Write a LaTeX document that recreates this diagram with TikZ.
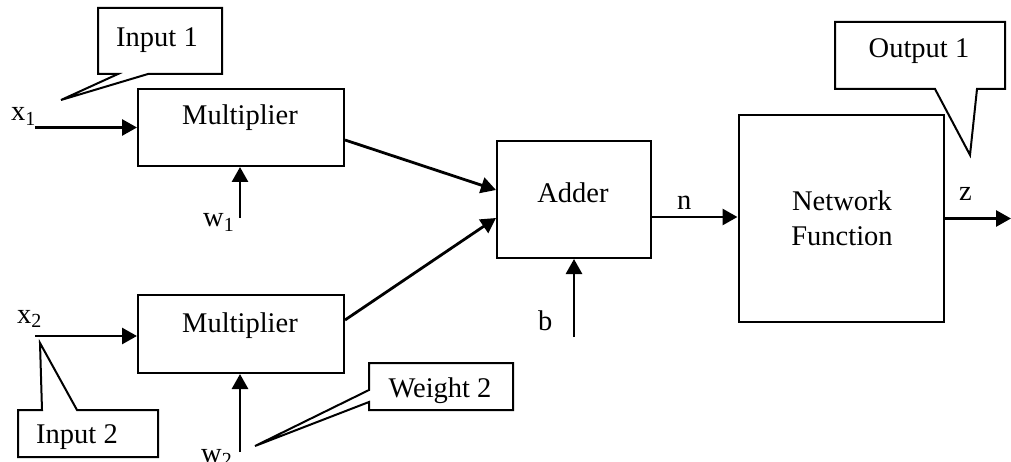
\documentclass[tikz,border=0pt]{standalone}
\usepackage{fontspec}
\setmainfont{Liberation Serif}
\usetikzlibrary{arrows.meta}
\begin{document}
\begin{tikzpicture}[x=1pt,y=-1pt,
  every node/.style={font=\fontsize{28.5}{34}\selectfont, inner sep=0pt},
  block/.style={draw, line width=2pt, rectangle},
  lbl/.style={anchor=base},
  sig/.style={line width=2.8pt, -{Triangle[length=15pt,width=16pt]}},
  callout/.style={draw, line width=2pt, line join=miter, fill=white}]
\useasboundingbox (0,0) rectangle (1011,462);

% processing blocks
\node[block, minimum width=206pt, minimum height=77pt] (m1) at (241,127.5) {};
\node[block, minimum width=206pt, minimum height=78pt] (m2) at (241,334) {};
\node[block, minimum width=154pt, minimum height=117pt] (add) at (574,199.5) {};
\node[block, minimum width=205pt, minimum height=207pt] (net) at (841,218.5) {};

% block captions
\node[lbl] (m1t) at (240,125) {Multiplier};
\node[lbl] (m2t) at (240,332) {Multiplier};
\node[lbl] (addt) at (573,203) {Adder};
\node[lbl] (nett1) at (842,211) {Network};
\node[lbl] (nett2) at (842,245) {Function};

% signal labels
\node[anchor=base west] (x1) at (11,121) {x\textsubscript{1}};
\node[anchor=base west] (x2) at (17,323) {x\textsubscript{2}};
\node[anchor=base west] (w1) at (203,227) {w\textsubscript{1}};
\node[anchor=base west] (w2) at (201,462) {w\textsubscript{2}};
\node[anchor=base west] (b) at (538,330) {b};
\node[anchor=base west] (n) at (677,210) {n};
\node[anchor=base west] (z) at (959,201) {z};

% free ends of the signal lines
\coordinate (x1in) at (35,127.5);
\coordinate (x2in) at (35,336);
\coordinate (w1in) at (240,218);
\coordinate (w2in) at (240,452);
\coordinate (bin) at (574,337);
\coordinate (nout) at ([yshift=-17.5pt]add.east);
\coordinate (zout) at (1011,218.5);

% signal flow
\draw[sig] (x1in) -- (x1in -| m1.west);
\draw[sig] (x2in) -- (x2in -| m2.west);
\draw[sig] (w1in) -- (w1in |- m1.south);
\draw[sig] (w2in) -- (w2in |- m2.south);
\draw[sig] ([yshift=-12.5pt]m1.east) -- ([yshift=9.5pt]add.west);
\draw[sig] ([yshift=14pt]m2.east) -- ([yshift=-18.5pt]add.west);
\draw[sig] (bin) -- (bin |- add.south);
\draw[sig] (nout) -- (nout -| net.west);
\draw[sig] (net.east) -- (zout);

% callouts
\draw[callout] (98,8) -- (222,8) -- (222,74) -- (148,74) -- (61,100) -- (118,74) -- (98,74) -- cycle;
\node[lbl] (in1) at (157,47) {Input 1};

\draw[callout] (835,22) -- (1005,22) -- (1005,89) -- (977,89) -- (970,155) -- (935,89) -- (835,89) -- cycle;
\node[lbl] (out1) at (919,58) {Output 1};

\draw[callout] (18,410) -- (42,410) -- (40,343) -- (77,410) -- (158,410) -- (158,457) -- (18,457) -- cycle;
\node[lbl] (in2) at (77,443) {Input 2};

\draw[callout] (369,363) -- (513,363) -- (513,410) -- (369,410) -- (369,402) -- (255,446) -- (369,390) -- cycle;
\node[lbl] (wt2) at (440,397) {Weight 2};
\end{tikzpicture}
\end{document}
